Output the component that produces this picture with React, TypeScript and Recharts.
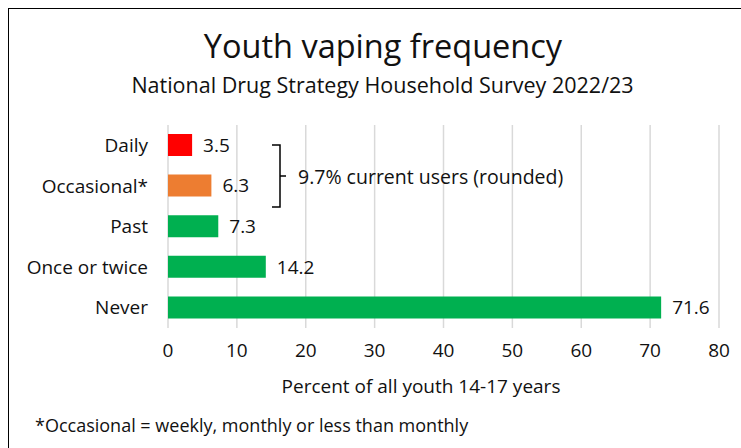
import React from 'react';
import { BarChart, Bar, XAxis, YAxis, CartesianGrid, Cell, LabelList } from 'recharts';

const categories = ['Daily', 'Occasional*', 'Past', 'Once or twice', 'Never '];
const percents = [3.5, 6.3, 7.3, 14.2, 71.6];
const barColors = ['#FF0000', '#ED7D31', '#00B050', '#00B050', '#00B050'];
const xTicks = [0, 10, 20, 30, 40, 50, 60, 70, 80];

const data = categories.map((name, i) => ({ name, value: percents[i] }));

const FONT = '"Open Sans", Lato, sans-serif';
const INK = '#111';

const App: React.FC = () => {
  return (
    <div style={{ position: 'absolute', left: 0, top: 0, width: 741, height: 448, fontFamily: FONT, background: '#fff' }}>
      {/* frame, cut off on the right and bottom */}
      <div style={{ position: 'absolute', left: 8, top: 8, width: 733, height: 440, borderLeft: '1.5px solid #000', borderTop: '1.5px solid #000' }} />

      <div style={{ position: 'absolute', left: 0, width: 766, top: 25, textAlign: 'center', fontSize: 32.5, color: INK, lineHeight: '42px' }}>
        Youth vaping frequency
      </div>
      <div style={{ position: 'absolute', left: 0, width: 765, top: 71, textAlign: 'center', fontSize: 21.5, color: INK, lineHeight: '28px' }}>
        National Drug Strategy Household Survey 2022/23
      </div>

      <div style={{ position: 'absolute', left: 0, top: 0 }}>
        <BarChart
          width={741}
          height={448}
          layout="vertical"
          data={data}
          margin={{ top: 125, right: 22, left: 8, bottom: 0 }}
        >
          <CartesianGrid horizontal={false} stroke="#d9d9d9" strokeWidth={1.5} />
          <XAxis
            type="number"
            domain={[0, 80]}
            ticks={xTicks}
            axisLine={false}
            tickLine={false}
            tickMargin={10}
            height={120}
            tick={{ fontSize: 19, fill: INK, fontFamily: FONT }}
          />
          <YAxis
            type="category"
            dataKey="name"
            width={160}
            axisLine={false}
            tickLine={false}
            tickMargin={14}
            tick={{ fontSize: 19, fill: INK, fontFamily: FONT }}
          />
          <Bar dataKey="value" isAnimationActive={false} barSize={22}>
            {data.map((d, i) => (
              <Cell key={d.name} fill={barColors[i]} />
            ))}
            <LabelList dataKey="value" position="right" offset={11} fill={INK} fontSize={19} fontFamily={FONT} />
          </Bar>
        </BarChart>
      </div>

      {/* bracket for current users */}
      <svg width={741} height={448} style={{ position: 'absolute', left: 0, top: 0, pointerEvents: 'none' }}>
        <path d="M272 145 H280 V207 H272 M280 176 H286" fill="none" stroke="#000" strokeWidth={1.5} />
        <text x={298} y={176} dominantBaseline="central" fontSize={19.5} fill={INK} fontFamily={FONT}>
          9.7% current users (rounded)
        </text>
      </svg>

      <div style={{ position: 'absolute', left: 0, width: 842, top: 374, textAlign: 'center', fontSize: 19, color: INK, lineHeight: '24px' }}>
        Percent of all youth 14-17 years
      </div>
      <div style={{ position: 'absolute', left: 35, top: 413, fontSize: 18, color: INK, lineHeight: '24px' }}>
        *Occasional = weekly, monthly or less than monthly
      </div>
    </div>
  );
};

export default App;
